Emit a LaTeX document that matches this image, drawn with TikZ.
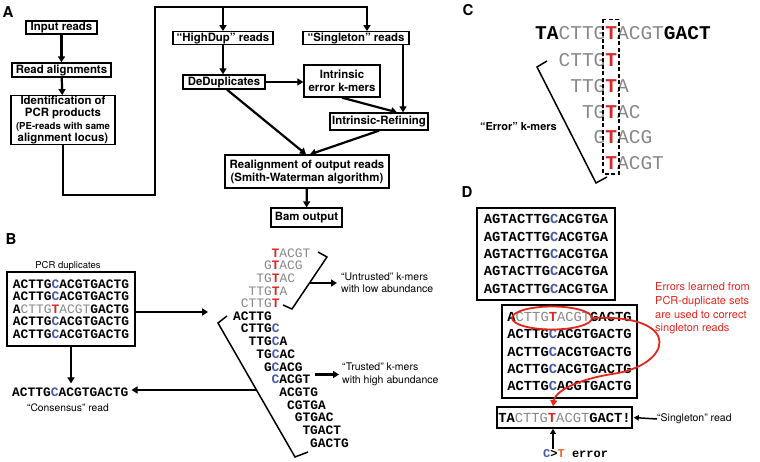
\documentclass[tikz,border=0pt]{standalone}
\usepackage{fontspec}
\setmainfont{TeX Gyre Heros}
\setmonofont{Liberation Mono}
\usetikzlibrary{arrows.meta,shapes.geometric}
\definecolor{seqgray}{RGB}{135,135,135}
\definecolor{seqred}{RGB}{214,40,40}
\definecolor{seqblue}{RGB}{70,90,170}
\definecolor{noteorange}{RGB}{232,105,40}
\definecolor{notered}{RGB}{226,38,30}
\def\gy#1{{\mdseries\color{seqgray}#1}}
\def\rT{{\bfseries\color{seqred}T}}
\def\bC{{\color{seqblue}C}}
\tikzset{
	abox/.style={draw, line width=1.3pt, align=center, inner sep=0pt, font=\bfseries\fontsize{11.4}{13.5}\selectfont},
	flow/.style={line width=2.2pt, -{Triangle[length=6pt,width=7pt]}},
	thinflow/.style={line width=1.5pt, -{Triangle[length=5pt,width=5.5pt]}},
	brk/.style={line width=1.5pt},
	kmer/.style={anchor=west, inner sep=0pt, font=\ttfamily\bfseries\fontsize{12.9}{12.5}\selectfont},
	kmerbig/.style={anchor=west, inner sep=0pt, font=\ttfamily\bfseries\fontsize{19.5}{20}\selectfont},
	seqbox/.style={draw, line width=1.6pt, inner sep=0pt, align=left, font=\ttfamily\bfseries\fontsize{13.8}{17.3}\selectfont},
	note/.style={anchor=west, inner sep=0pt, align=left, font=\fontsize{10.5}{12.5}\selectfont},
	panel/.style={inner sep=0pt, font=\bfseries\fontsize{15}{15}\selectfont}
}

\begin{document}
\begin{tikzpicture}[x=1pt, y=-1pt]
		%%%%% START %%%%%
		\useasboundingbox (0,0) rectangle (760,462);
		
		%% A
		\node[panel] (labA) at (8,12) {A};
		\node[abox, minimum width=71, minimum height=13] (inreads) at (61.5,27.5) {Input reads};
		\node[abox, minimum width=99, minimum height=14] (readaln) at (61.5,70) {Read alignments};
		\node[abox, minimum width=104, minimum height=48, font=\bfseries\fontsize{11.4}{12.5}\selectfont] (pcrid) at (63,120) {Identification of\\PCR products\\\fontsize{9.6}{9.6}\selectfont(PE-reads with same\\alignment locus)};
		\node[abox, minimum width=100, minimum height=12.5] (highdup) at (223,38) {“HighDup” reads};
		\node[abox, minimum width=106, minimum height=12.5] (singleton) at (356,38) {“Singleton” reads};
		\node[abox, minimum width=82, minimum height=14] (dedup) at (224,82) {DeDuplicates};
		\node[abox, minimum width=76, minimum height=32] (interr) at (342,81) {Intrinsic\\error k-mers};
		\node[abox, minimum width=98, minimum height=17] (refine) at (379,121.5) {Intrinsic-Refining};
		\node[abox, minimum width=164, minimum height=33, font=\bfseries\fontsize{11.4}{13}\selectfont] (realign) at (307,171.5) {Realignment of output reads\\(Smith-Waterman algorithm)};
		\node[abox, minimum width=71, minimum height=19] (bam) at (306.5,217.5) {Bam output};
		
		\coordinate (loopl) at (155,195);
		\coordinate (loopt) at (155,7);
		\draw[flow] (inreads) -- (readaln);
		\draw[flow] (readaln) -- (pcrid);
		\draw[flow] (pcrid.south) |- (loopl) -- (loopt) -| ([xshift=11pt]singleton.north);
		\draw[flow] (loopt -| highdup.north) -- (highdup.north);
		\draw[flow] (highdup.south) -- (highdup.south |- dedup.north);
		\draw[flow] (dedup.east) -- (dedup.east -| interr.west);
		\draw[flow] ([xshift=47pt]singleton.south) -- ([xshift=24pt]refine.north);
		\draw[flow] (interr.south) -- ([xshift=18pt]refine.north);
		\draw[flow] ([xshift=3pt]dedup.south) -- ([xshift=-1pt]realign.north);
		\draw[flow] (refine.south) -- ([xshift=3pt]realign.north);
		\draw[flow] (realign) -- (bam);
		
		%% B
		\node[panel] (labB) at (11,239) {B};
		\node[font=\fontsize{9.5}{10}\selectfont] (pcrlab) at (68,266) {PCR duplicates};
		\node[seqbox, minimum width=128, minimum height=74, font=\ttfamily\bfseries\fontsize{12.9}{12.5}\selectfont] (pcrbox) at (71,309) {ACTTG\bC ACGTGACTG\\ACTTG\bC ACGTGACTG\\A\gy{CTTG}\rT\gy{ACGT}GACTG\\ACTTG\bC ACGTGACTG\\ACTTG\bC ACGTGACTG};
		\node[kmer] (cons) at (12,392) {ACTTG\bC ACGTGACTG};
		\node[font=\fontsize{10.3}{11}\selectfont] (conslab) at (68,408) {“Consensus” read};
		
		\node[kmer] (kU5) at (271.5,253) {\rT\gy{ACGT}};
		\node[kmer] (kU4) at (263.8,265.6) {\gy{G}\rT\gy{ACG}};
		\node[kmer] (kU3) at (256.1,278.2) {\gy{TG}\rT\gy{AC}};
		\node[kmer] (kU2) at (248.4,290.8) {\gy{TTG}\rT\gy{A}};
		\node[kmer] (kU1) at (240.7,303.4) {\gy{CTTG}\rT};
		\node[kmer] (kT0) at (233,316) {ACTTG};
		\node[kmer] (kT1) at (240.7,328.7) {CTTG\bC};
		\node[kmer] (kT2) at (248.4,341.4) {TTG\bC A};
		\node[kmer] (kT3) at (256.1,354.1) {TG\bC AC};
		\node[kmer] (kT4) at (263.8,366.8) {G\bC ACG};
		\node[kmer] (kT5) at (271.5,379.5) {\bC ACGT};
		\node[kmer] (kT6) at (279.2,392.2) {ACGTG};
		\node[kmer] (kT7) at (286.9,404.9) {CGTGA};
		\node[kmer] (kT8) at (294.6,417.6) {GTGAC};
		\node[kmer] (kT9) at (302.3,430.3) {TGACT};
		\node[kmer] (kT10) at (310,443) {GACTG};
		\node[note] (untrlab) at (341,283) {“Untrusted” k-mers\\with low abundance};
		\node[note] (trlab) at (342,374.5) {“Trusted” k-mers\\with high abundance};
		
		\draw[brk] (318,252) -- (327,257) -- (292,309) -- (283,305);
		\draw[brk] (227,316) -- (218,323) -- (295,457) -- (308,452);
		\coordinate (untrmid) at (309.5,283);
		\coordinate (trbrk) at (256.5,390);
		\coordinate (kmerin) at (208,312);
		\draw[flow] (pcrbox.east |- kmerin) -- (kmerin);
		\draw[flow, shorten >=4pt] (pcrbox.south) -- (pcrbox.south |- cons.north);
		\draw[flow, shorten >=3pt] (trbrk) -- (trbrk -| cons.east);
		\draw[flow, shorten >=4pt] (untrmid) -- (untrlab.west);
		\draw[flow, shorten >=3pt] ([xshift=4pt]kT5.east |- trlab.west) -- (trlab.west);
		
		%% C
		\node[panel] (labC) at (468,10) {C};
		\node[kmerbig] (topseq) at (535,33) {TA\gy{CTTG}\rT\gy{ACGT}GACT};
		\node[kmerbig] (kE1) at (558.4,60) {\gy{CTTG}\rT};
		\node[kmerbig] (kE2) at (570.1,86) {\gy{TTG}\rT\gy{A}};
		\node[kmerbig] (kE3) at (581.8,112) {\gy{TG}\rT\gy{AC}};
		\node[kmerbig] (kE4) at (593.5,137.5) {\gy{G}\rT\gy{ACG}};
		\node[kmerbig] (kE5) at (605.2,163) {\rT\gy{ACGT}};
		\draw[line width=1.4pt, dash pattern=on 4pt off 2.5pt] (603,19.5) rectangle (619,174);
		\draw[brk] (547,61) -- (537,67) -- (596,183) -- (607,177);
		\node[anchor=east, inner sep=0pt, font=\bfseries\fontsize{11}{12}\selectfont] (errlab) at (557,127) {“Error” k-mers};
		
		%% D
		\node[panel] (labD) at (467,192) {D};
		\node[seqbox, minimum width=138, minimum height=92] (dupbox) at (546,254) {AGTACTTG\bC ACGTGA\\AGTACTTG\bC ACGTGA\\AGTACTTG\bC ACGTGA\\AGTACTTG\bC ACGTGA\\AGTACTTG\bC ACGTGA};
		\node[seqbox, minimum width=135, minimum height=93] (setbox) at (569.5,351.5) {A\gy{CTTG}\rT\gy{ACGT}GACTG\\ACTTG\bC ACGTGACTG\\ACTTG\bC ACGTGACTG\\ACTTG\bC ACGTGACTG\\ACTTG\bC ACGTGACTG};
		\node[seqbox, minimum width=135, minimum height=21] (singbox) at (564.5,417.5) {TA\gy{CTTG}\rT\gy{ACGT}GACT!};
		\node[draw=notered, ellipse, line width=1.8pt, minimum width=80, minimum height=23, inner sep=0pt] (errell) at (552,318) {};
		\node[note, text=notered, font=\fontsize{11}{13.7}\selectfont] (errnote) at (655,308.5) {Errors learned from\\PCR-duplicate sets\\are used to correct\\singleton reads};
		\node[note] (singlab) at (657,419) {“Singleton” read};
		\node[anchor=west, inner sep=0pt, font=\ttfamily\bfseries\fontsize{12}{13}\selectfont] (ctlab) at (543,453.5) {\textcolor{seqblue}{C}>\textcolor{noteorange}{T} error};
		
		\coordinate (errpos) at (553,0);
		\draw[line width=1.8pt, notered, -{Triangle[length=6pt,width=7pt]}] (errell.east) .. controls (685,314) and (672,366) .. (612,374) .. controls (575,380) and (555,392) .. (singbox.north -| errpos);
		\draw[thinflow, shorten >=1pt] (singlab.west) -- (singbox.east);
		\draw[thinflow] (ctlab.north -| errpos) -- (singbox.south -| errpos);
		
		%%%%% END %%%%%
	\end{tikzpicture}
\end{document}
